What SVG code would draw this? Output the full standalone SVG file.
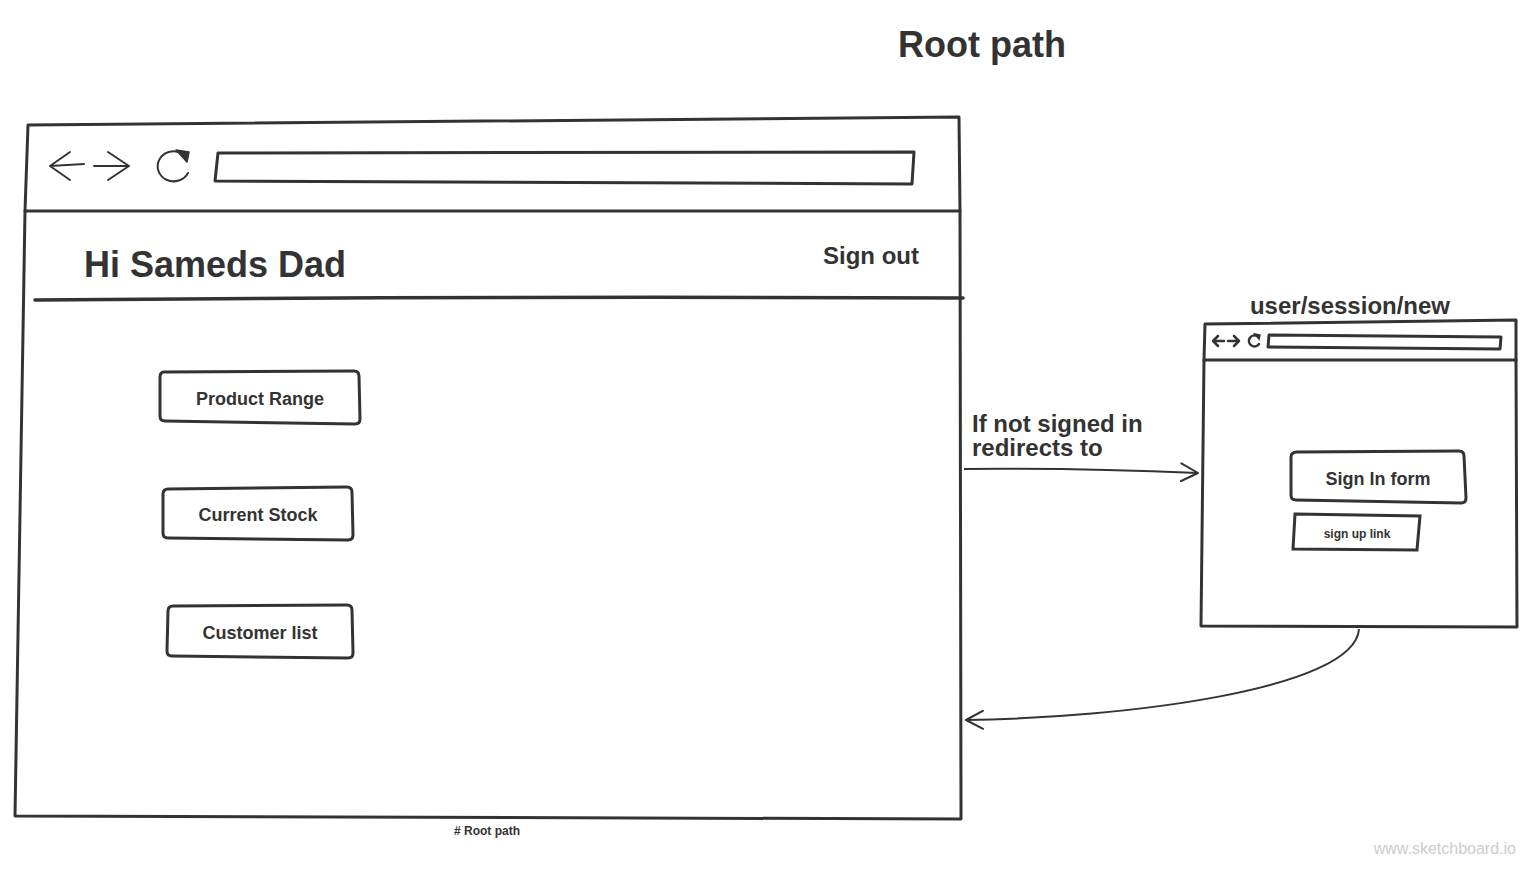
<svg xmlns="http://www.w3.org/2000/svg" width="1536" height="869" viewBox="0 0 1536 869">
  <style>
    .frame { fill: none; stroke: #333; stroke-width: 3; stroke-linejoin: round; stroke-linecap: round; }
    .thin { fill: none; stroke: #333; stroke-width: 2; stroke-linecap: round; stroke-linejoin: round; }
    .btn { fill: #fff; stroke: #333; stroke-width: 3; }
    .t { font-family: "Liberation Sans", Arial, sans-serif; font-weight: bold; fill: #333; }
    .link { fill: none; stroke: #333; stroke-width: 2; }
  </style>
  <defs>
    <marker id="open" viewBox="0 0 20 20" refX="18" refY="10" markerWidth="20" markerHeight="20" markerUnits="userSpaceOnUse" orient="auto">
      <path d="M1,1 L18,10 L1,19" fill="none" stroke="#333" stroke-width="2" stroke-linecap="round" stroke-linejoin="round"/>
    </marker>
  </defs>
  <rect width="1536" height="869" fill="#fff"/>

  <text class="t" x="898" y="57" font-size="36">Root path</text>

  <!-- main page mockup -->
  <g id="root-browser">
    <path class="frame" d="M28,125 L959,117 L960,211 L961,819 L15,816 L25,211 Z"/>
    <path class="frame" d="M25,211 L960,211"/>
    <!-- back / forward / reload -->
    <path class="thin" d="M84,164 L50,166 M70,152 L50,166 L70,180"/>
    <path class="thin" d="M94,166 L129,166 M108,152 L129,166 L108,180"/>
    <path class="thin" d="M181,153 A16,15 0 1 0 188,173"/>
    <path d="M176,150 L189,152 L187,162 Z" fill="#333" stroke="#333" stroke-width="1.5" stroke-linejoin="round"/>
    <path class="frame" d="M218,153 L914,152 L912,184 L215,181 Z"/>
    <text class="t" x="84" y="277" font-size="36">Hi Sameds Dad</text>
    <text class="t" x="823" y="264" font-size="24">Sign out</text>
    <path d="M35,300 Q500,296 963,298" fill="none" stroke="#333" stroke-width="3.5" stroke-linecap="round"/>
  </g>

  <g id="btn-product-range">
    <path class="btn" d="M164,372 L354,371 Q359,371 359,376 L360,419 Q360,424 355,424 L165,421 Q160,421 160,416 L160,377 Q160,372 164,372 Z"/>
    <text class="t" x="260" y="405" font-size="18" text-anchor="middle">Product Range</text>
  </g>
  <g id="btn-current-stock">
    <path class="btn" d="M168,489 L347,487 Q352,487 352,492 L353,535 Q353,540 348,540 L168,538 Q163,538 163,533 L163,494 Q163,489 168,489 Z"/>
    <text class="t" x="258" y="521" font-size="18" text-anchor="middle">Current Stock</text>
  </g>
  <g id="btn-customer-list">
    <path class="btn" d="M173,606 L347,605 Q352,605 352,610 L353,653 Q353,658 348,658 L172,656 Q167,656 167,651 L168,611 Q168,606 173,606 Z"/>
    <text class="t" x="260" y="639" font-size="18" text-anchor="middle">Customer list</text>
  </g>

  <text class="t" x="487" y="835" font-size="12" text-anchor="middle"># Root path</text>

  <!-- sign-in page mockup -->
  <g id="session-browser">
    <text class="t" x="1350" y="314" font-size="24" text-anchor="middle">user/session/new</text>
    <path class="frame" d="M1205,324 L1516,320 L1516,360 L1517,627 L1201,626 L1204,360 Z"/>
    <path class="frame" d="M1204,360 L1516,360"/>
    <path d="M1224,341 L1213,341 M1218,336 L1213,341 L1218,346" fill="none" stroke="#333" stroke-width="2.5" stroke-linecap="round" stroke-linejoin="round"/>
    <path d="M1228,341 L1239,341 M1234,336 L1239,341 L1234,346" fill="none" stroke="#333" stroke-width="2.5" stroke-linecap="round" stroke-linejoin="round"/>
    <path d="M1257,336 A5.5,5.5 0 1 0 1259,344" fill="none" stroke="#333" stroke-width="2.5" stroke-linecap="round"/>
    <path d="M1255,334 L1260,335 L1259,339 Z" fill="#333" stroke="#333" stroke-width="1.5"/>
    <path class="frame" d="M1269,335 L1501,337 L1500,349 L1268,347 Z"/>
  </g>
  <g id="sign-in-form">
    <path class="btn" d="M1297,452 L1459,451 Q1464,451 1464,456 L1466,498 Q1466,503 1461,503 L1296,500 Q1291,500 1291,495 L1291,457 Q1291,452 1297,452 Z"/>
    <text class="t" x="1378" y="485" font-size="18" text-anchor="middle">Sign In form</text>
  </g>
  <g id="sign-up-link">
    <path class="btn" d="M1295,514 L1420,516 L1417,550 L1293,549 Z"/>
    <text class="t" x="1357" y="538" font-size="12" text-anchor="middle">sign up link</text>
  </g>

  <!-- connectors -->
  <g id="connectors">
    <path class="link" d="M964,469 Q1080,468 1198,473" marker-end="url(#open)"/>
    <text class="t" x="972" y="432" font-size="24">If not signed in</text>
    <text class="t" x="972" y="456" font-size="24">redirects to</text>
    <path class="link" d="M1359,629 C1355,690 1120,718 966,720" marker-end="url(#open)"/>
  </g>

  <text x="1516" y="854" font-family="Liberation Sans, Arial, sans-serif" font-size="16" fill="#ccc" text-anchor="end">www.sketchboard.io</text>
</svg>
